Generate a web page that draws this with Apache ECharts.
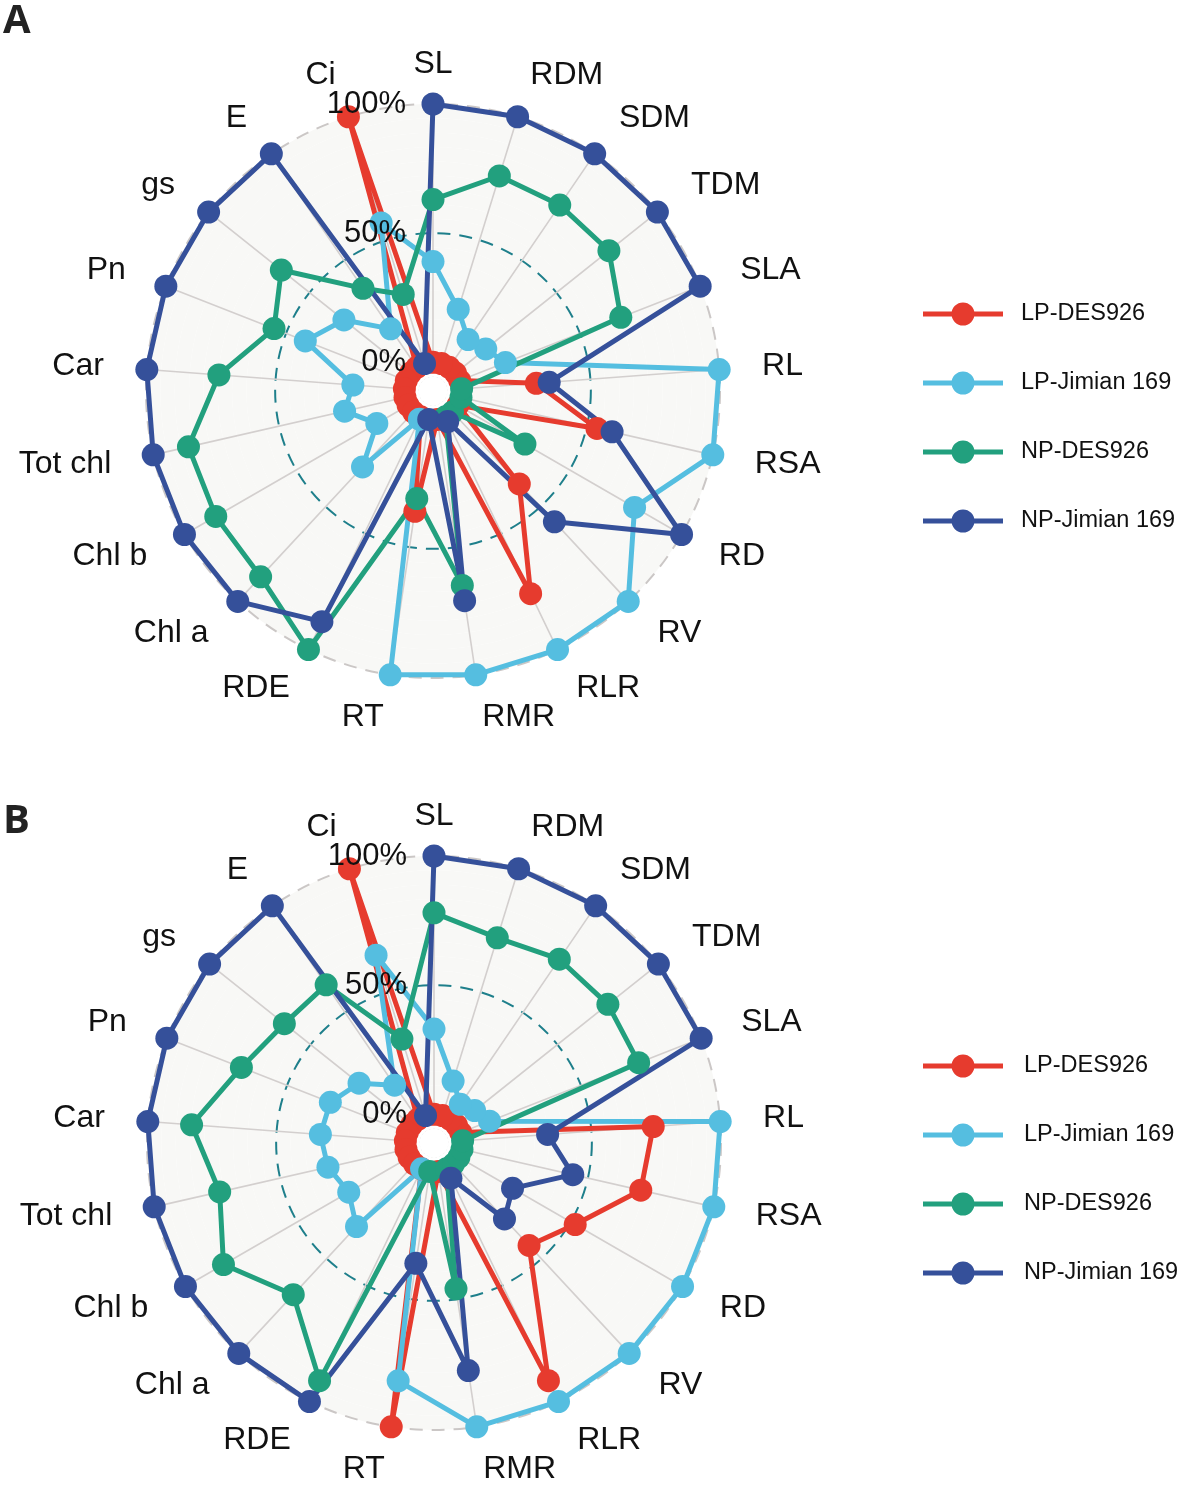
<!DOCTYPE html>
<html>
<head>
<meta charset="utf-8">
<script src="https://cdn.jsdelivr.net/npm/echarts/dist/echarts.min.js"></script>
<style>html,body{margin:0;padding:0;background:#fff}#c{width:1180px;height:1486px}</style>
</head>
<body>
<div id="c"></div>
<script>
// axes in clockwise order starting at the top
const axes = ['SL','RDM','SDM','TDM','SLA','RL','RSA','RD','RV','RLR','RMR','RT','RDE','Chl a','Chl b','Tot chl','Car','Pn','gs','E','Ci'];
const groups = ['LP-DES926','LP-Jimian 169','NP-DES926','NP-Jimian 169'];
const gridValues = [0, 50, 100];
const gridLabels = ['0%', '50%', '100%'];

// Panel A (values in % of the scaled range)
const A_LP_DES926     = [0,0,0,0,0,29,54,0,38,76,0,36,0,0,0,0,0,0,0,0,100];
const A_LP_Jimian169  = [39,22,13,15,19,100,100,79,100,100,100,100,1,29,14,24,20,42,33,18,57];
const A_NP_DES926     = [63,76,76,76,67,0,0,30,0,0,65,31,100,87,86,86,72,55,64,37,28];
const A_NP_Jimian169  = [100,100,100,100,100,34,60,100,58,2,71,0,88,100,100,100,100,100,100,100,0];

// Panel B
const B_LP_DES926     = [0,0,0,0,0,74,71,52,43,91,0,100,0,0,0,0,0,0,0,0,100];
const B_LP_Jimian169  = [33,14,7,9,12,100,100,100,100,100,100,82,0,33,27,31,33,32,26,16,65];
const B_NP_DES926     = [78,72,75,75,74,0,0,0,0,0,46,0,91,69,83,74,83,69,63,63,31];
const B_NP_Jimian169  = [100,100,100,100,100,33,44,24,29,4,78,36,100,100,100,100,100,100,100,100,0];

const colors = ['#E63B2E', '#55BEE0', '#22A07E', '#35509A'];
const FONT = '"Liberation Sans", Arial, Helvetica, sans-serif';

const panelA = [A_LP_DES926, A_LP_Jimian169, A_NP_DES926, A_NP_Jimian169];
const panelB = [B_LP_DES926, B_LP_Jimian169, B_NP_DES926, B_NP_Jimian169];

// ggradar style: centre offset of 1/9 of the range below the minimum
const VMAX = 100;
const VMIN = -100 / 9;
const SPLITS = 20;

// radar indicators go counter-clockwise; reorder so the chart reads clockwise
const order = [0].concat(axes.map((_, i) => axes.length - 1 - i).slice(0, axes.length - 1));
const reorder = arr => order.map(i => arr[i]);

function labelFormatter(v) {
  for (let k = 0; k < gridValues.length; k++) {
    if (Math.abs(v - gridValues[k]) < 0.5) return gridLabels[k];
  }
  return '';
}

function indicators(withGridLabels) {
  return order.map(i => {
    const ind = { name: axes[i], min: VMIN, max: VMAX };
    if (i === 0) {
      ind.nameGap = 24;
      if (withGridLabels) {
        ind.axisLabel = { show: true, margin: 27, fontSize: 31, color: '#111', fontFamily: FONT, formatter: labelFormatter };
      }
    }
    return ind;
  });
}

const splitLineColors = [];
const splitAreaColors = [];
const holeColors = [];
for (let k = 0; k <= SPLITS; k++) {
  splitLineColors.push(k === 11 ? '#1E7F8B' : (k === SPLITS ? '#CBC7C6' : 'rgba(0,0,0,0)'));
  splitAreaColors.push('#F8F8F6');
  holeColors.push(k < 2 ? '#ffffff' : 'rgba(0,0,0,0)');
}

function gridRadar(center) {
  return {
    center: center, radius: 287, startAngle: 90, shape: 'circle', splitNumber: SPLITS, z: 1,
    indicator: indicators(false),
    nameGap: 43,
    axisName: { color: '#111', fontSize: 32, fontFamily: FONT, padding: [8, 0, 0, 0] },
    splitLine: { show: true, lineStyle: { color: splitLineColors, width: 2, type: [13, 9] } },
    splitArea: { show: true, areaStyle: { color: splitAreaColors } },
    axisLine: { show: true, lineStyle: { color: '#D3CFCE', width: 1.6 } },
    axisTick: { show: false },
    axisLabel: { show: false }
  };
}
function holeRadar(center) {
  return {
    center: center, radius: 287, startAngle: 90, shape: 'circle', splitNumber: SPLITS, z: 2,
    indicator: indicators(false),
    axisName: { show: false },
    splitLine: { show: false },
    splitArea: { show: true, areaStyle: { color: holeColors } },
    axisLine: { show: false },
    axisTick: { show: false },
    axisLabel: { show: false }
  };
}
function labelRadar(center) {
  return {
    center: center, radius: 287, startAngle: 90, shape: 'circle', splitNumber: SPLITS, z: 10,
    indicator: indicators(true),
    axisName: { show: false },
    splitLine: { show: false },
    splitArea: { show: false },
    axisLine: { show: false },
    axisTick: { show: false },
    axisLabel: { show: false }
  };
}

function panelSeries(radarIndex, data) {
  const lines = data.map((vals, g) => ({
    type: 'radar', radarIndex: radarIndex, z: 3, silent: true,
    symbol: 'none',
    lineStyle: { width: 5, color: colors[g] },
    itemStyle: { color: colors[g] },
    data: [{ name: groups[g], value: reorder(vals) }]
  }));
  const points = data.map((vals, g) => ({
    type: 'radar', radarIndex: radarIndex, z: 4, silent: true,
    symbol: 'circle', symbolSize: 23,
    lineStyle: { width: 0, opacity: 0 },
    itemStyle: { color: colors[g], opacity: 1 },
    data: [{ name: groups[g], value: reorder(vals) }]
  }));
  return lines.concat(points);
}

const ICON = 'path://M0,9.5L80,9.5L80,14.5L0,14.5Z M28.5,12A11.5,11.5,0,1,1,51.5,12A11.5,11.5,0,1,1,28.5,12Z';
function legend(top, textPad) {
  return {
    orient: 'vertical', left: 918, top: top, itemWidth: 80, itemHeight: 23, itemGap: 45,
    selectedMode: false,
    data: groups.map(n => ({ name: n, icon: ICON })),
    textStyle: { fontSize: 23.5, color: '#111', fontFamily: FONT, padding: [0, 0, 0, textPad] }
  };
}

const chart = echarts.init(document.getElementById('c'), null, { renderer: 'canvas' });
chart.setOption({
  animation: false,
  backgroundColor: '#ffffff',
  radar: [
    gridRadar([433, 391]), holeRadar([433, 391]), labelRadar([433, 391]),
    gridRadar([434, 1143]), holeRadar([434, 1143]), labelRadar([434, 1143])
  ],
  legend: [legend(297, 13), legend(1049, 16)],
  graphic: [
    { type: 'text', left: 3, top: 2, style: { text: 'A', fontSize: 40, fontWeight: 'bold', fontFamily: '"Open Sans", sans-serif', fill: '#222' } },
    { type: 'text', left: 3, top: 802, style: { text: 'B', fontSize: 40, fontWeight: 'bold', fontFamily: '"Open Sans", sans-serif', fill: '#222' } }
  ],
  series: panelSeries(0, panelA).concat(panelSeries(3, panelB))
});
</script>
</body>
</html>
